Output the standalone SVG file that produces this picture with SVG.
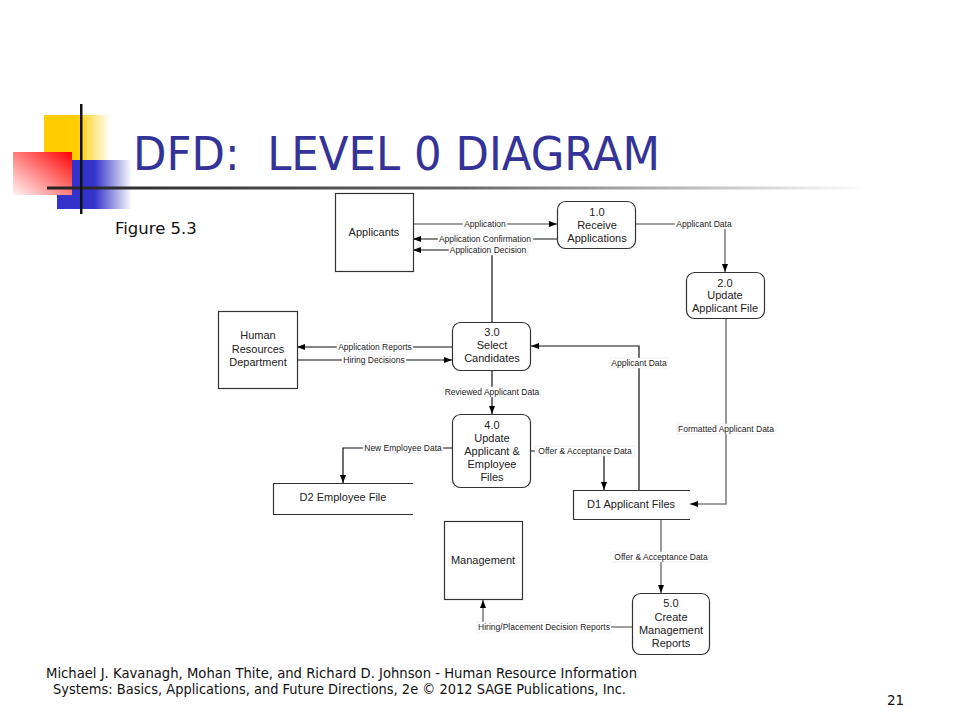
<svg xmlns="http://www.w3.org/2000/svg" width="960" height="720" viewBox="0 0 960 720">
<style>
.ent{fill:#fff;stroke:#333;stroke-width:1.2}
.proc{fill:#fff;stroke:#333;stroke-width:1.2}
.store{fill:none;stroke:#333;stroke-width:1.2}
.nt{font-family:"Liberation Sans",Arial,sans-serif;font-size:11px;fill:#222;text-anchor:middle}
.ln{fill:none;stroke:#111;stroke-width:1.2}
.lg{fill:none;stroke:#808080;stroke-width:1.6}
.lb{fill:#fff;stroke:#e2e2e2;stroke-width:0.5}
.lt{font-family:"Liberation Sans",Arial,sans-serif;font-size:8.5px;fill:#222;text-anchor:middle}
.ft{font-family:"DejaVu Sans",Tahoma,sans-serif;font-size:13.5px;fill:#111}
</style>
<defs>
<marker id="ah" viewBox="0 0 8 6" refX="8" refY="3" markerWidth="8" markerHeight="6" markerUnits="userSpaceOnUse" orient="auto">
<path d="M0,0 L8,3 L0,6 z" fill="#000"/>
</marker>
<linearGradient id="gy" x1="0" y1="0" x2="1" y2="0">
<stop offset="0" stop-color="#FFCC00"/>
<stop offset="0.5" stop-color="#FFCC00"/>
<stop offset="1" stop-color="#FFCC00" stop-opacity="0"/>
</linearGradient>
<linearGradient id="gb" x1="0" y1="0" x2="1" y2="0">
<stop offset="0" stop-color="#3333CC"/>
<stop offset="0.5" stop-color="#3333CC"/>
<stop offset="1" stop-color="#3333CC" stop-opacity="0"/>
</linearGradient>
<linearGradient id="gr" x1="1" y1="0" x2="0" y2="1">
<stop offset="0" stop-color="#FF0000"/>
<stop offset="0.55" stop-color="#FF8A8A"/>
<stop offset="1" stop-color="#FFF4F4"/>
</linearGradient>
<linearGradient id="gl" x1="0" y1="0" x2="1" y2="0">
<stop offset="0" stop-color="#222"/>
<stop offset="0.5" stop-color="#666"/>
<stop offset="1" stop-color="#fff"/>
</linearGradient>
</defs>
<rect width="960" height="720" fill="#fff"/>
<g id="decoration">
<rect x="44" y="115" width="66" height="45" fill="url(#gy)"/>
<rect x="57" y="160" width="75" height="49" fill="url(#gb)"/>
<rect x="13" y="152" width="59" height="43" fill="url(#gr)"/>
<rect x="47" y="186.5" width="823" height="3" fill="url(#gl)"/>
<rect x="80" y="104" width="2.5" height="110" fill="#111"/>
</g>
<g id="title">
<text x="133" y="170" font-family="DejaVu Sans, Tahoma, sans-serif" font-size="46" fill="#333399" textLength="527" lengthAdjust="spacingAndGlyphs" xml:space="preserve">DFD:  LEVEL 0 DIAGRAM</text>
<text x="115" y="234" font-family="DejaVu Sans, Tahoma, sans-serif" font-size="16.5" fill="#111">Figure 5.3</text>
</g>
<g id="connectors">
<path class="lg" d="M413,224 H557" marker-end="url(#ah)"/>
<path class="ln" d="M557,239 H413" marker-end="url(#ah)"/>
<path class="ln" d="M492,323 V250 H413" marker-end="url(#ah)"/>
<path class="lg" d="M636,224 H725 V272" marker-end="url(#ah)"/>
<path class="lg" d="M726,319 V504 H690" marker-end="url(#ah)"/>
<path class="ln" d="M639,490 V346 H531" marker-end="url(#ah)"/>
<path class="ln" d="M452,347 H297" marker-end="url(#ah)"/>
<path class="ln" d="M297,360 H452" marker-end="url(#ah)"/>
<path class="ln" d="M492,371 V414" marker-end="url(#ah)"/>
<path class="ln" d="M452,448 H343 V483" marker-end="url(#ah)"/>
<path class="ln" d="M531,451 H604 V490" marker-end="url(#ah)"/>
<path class="lg" d="M661,519 V593" marker-end="url(#ah)"/>
<path class="lg" d="M632,627 H483 V600" marker-end="url(#ah)"/>
<rect class="lb" x="463" y="219" width="44" height="10"/>
<text class="lt" x="485" y="227">Application</text>
<rect class="lb" x="438" y="234" width="95" height="10"/>
<text class="lt" x="485" y="242">Application Confirmation</text>
<rect class="lb" x="449" y="245" width="79" height="10"/>
<text class="lt" x="488" y="253">Application Decision</text>
<rect class="lb" x="675" y="219" width="58" height="10"/>
<text class="lt" x="704" y="227">Applicant Data</text>
<rect class="lb" x="610" y="358" width="58" height="10"/>
<text class="lt" x="639" y="366">Applicant Data</text>
<rect class="lb" x="677" y="424" width="99" height="10"/>
<text class="lt" x="726" y="432">Formatted Applicant Data</text>
<rect class="lb" x="337" y="342" width="76" height="10"/>
<text class="lt" x="375" y="350">Application Reports</text>
<rect class="lb" x="342" y="355" width="64" height="10"/>
<text class="lt" x="374" y="363">Hiring Decisions</text>
<rect class="lb" x="443" y="387" width="98" height="10"/>
<text class="lt" x="492" y="395">Reviewed Applicant Data</text>
<rect class="lb" x="363" y="443" width="80" height="10"/>
<text class="lt" x="403" y="451">New Employee Data</text>
<rect class="lb" x="535" y="446" width="100" height="10"/>
<text class="lt" x="585" y="454">Offer &amp; Acceptance Data</text>
<rect class="lb" x="611" y="552" width="100" height="10"/>
<text class="lt" x="661" y="560">Offer &amp; Acceptance Data</text>
<rect class="lb" x="477" y="622" width="134" height="10"/>
<text class="lt" x="544" y="630">Hiring/Placement Decision Reports</text>
</g>
<g id="applicants">
<rect class="ent" x="335.5" y="193.5" width="78" height="78"/>
<text class="nt" x="374" y="236">Applicants</text>
</g>
<g id="p1">
<rect class="proc" x="557.5" y="201.5" width="78" height="47" rx="8"/>
<text class="nt" x="597" y="216">1.0</text>
<text class="nt" x="597" y="229">Receive</text>
<text class="nt" x="597" y="242">Applications</text>
</g>
<g id="p2">
<rect class="proc" x="686.5" y="272.5" width="78" height="46" rx="8"/>
<text class="nt" x="725" y="287">2.0</text>
<text class="nt" x="725" y="299">Update</text>
<text class="nt" x="725" y="312">Applicant File</text>
</g>
<g id="hrd">
<rect class="ent" x="218.5" y="311.5" width="79" height="77"/>
<text class="nt" x="258" y="339">Human</text>
<text class="nt" x="258" y="353">Resources</text>
<text class="nt" x="258" y="366">Department</text>
</g>
<g id="p3">
<rect class="proc" x="452.5" y="322.5" width="78" height="48" rx="8"/>
<text class="nt" x="492" y="336">3.0</text>
<text class="nt" x="492" y="349">Select</text>
<text class="nt" x="492" y="362">Candidates</text>
</g>
<g id="p4">
<rect class="proc" x="452.5" y="414.5" width="78" height="73" rx="8"/>
<text class="nt" x="492" y="429">4.0</text>
<text class="nt" x="492" y="442">Update</text>
<text class="nt" x="492" y="455">Applicant &amp;</text>
<text class="nt" x="492" y="468">Employee</text>
<text class="nt" x="492" y="481">Files</text>
</g>
<g id="d2">
<path class="store" d="M413,483.5 H273.5 V514.5 H413"/>
<text class="nt" x="343" y="501">D2 Employee File</text>
</g>
<g id="d1">
<path class="store" d="M690,490.5 H573.5 V519.5 H690"/>
<text class="nt" x="631" y="508">D1 Applicant Files</text>
</g>
<g id="management">
<rect class="ent" x="444.5" y="521.5" width="78" height="78"/>
<text class="nt" x="483" y="564">Management</text>
</g>
<g id="p5">
<rect class="proc" x="632.5" y="593.5" width="77" height="61" rx="8"/>
<text class="nt" x="671" y="607">5.0</text>
<text class="nt" x="671" y="621">Create</text>
<text class="nt" x="671" y="634">Management</text>
<text class="nt" x="671" y="647">Reports</text>
</g>
<g id="footer">
<text class="ft" x="46" y="678" textLength="591" lengthAdjust="spacingAndGlyphs">Michael J. Kavanagh, Mohan Thite, and Richard  D. Johnson - Human Resource Information</text>
<text class="ft" x="53" y="694" textLength="573" lengthAdjust="spacingAndGlyphs">Systems: Basics, Applications, and Future Directions, 2e © 2012 SAGE Publications, Inc.</text>
<text class="ft" x="887" y="705">21</text>
</g>
</svg>
